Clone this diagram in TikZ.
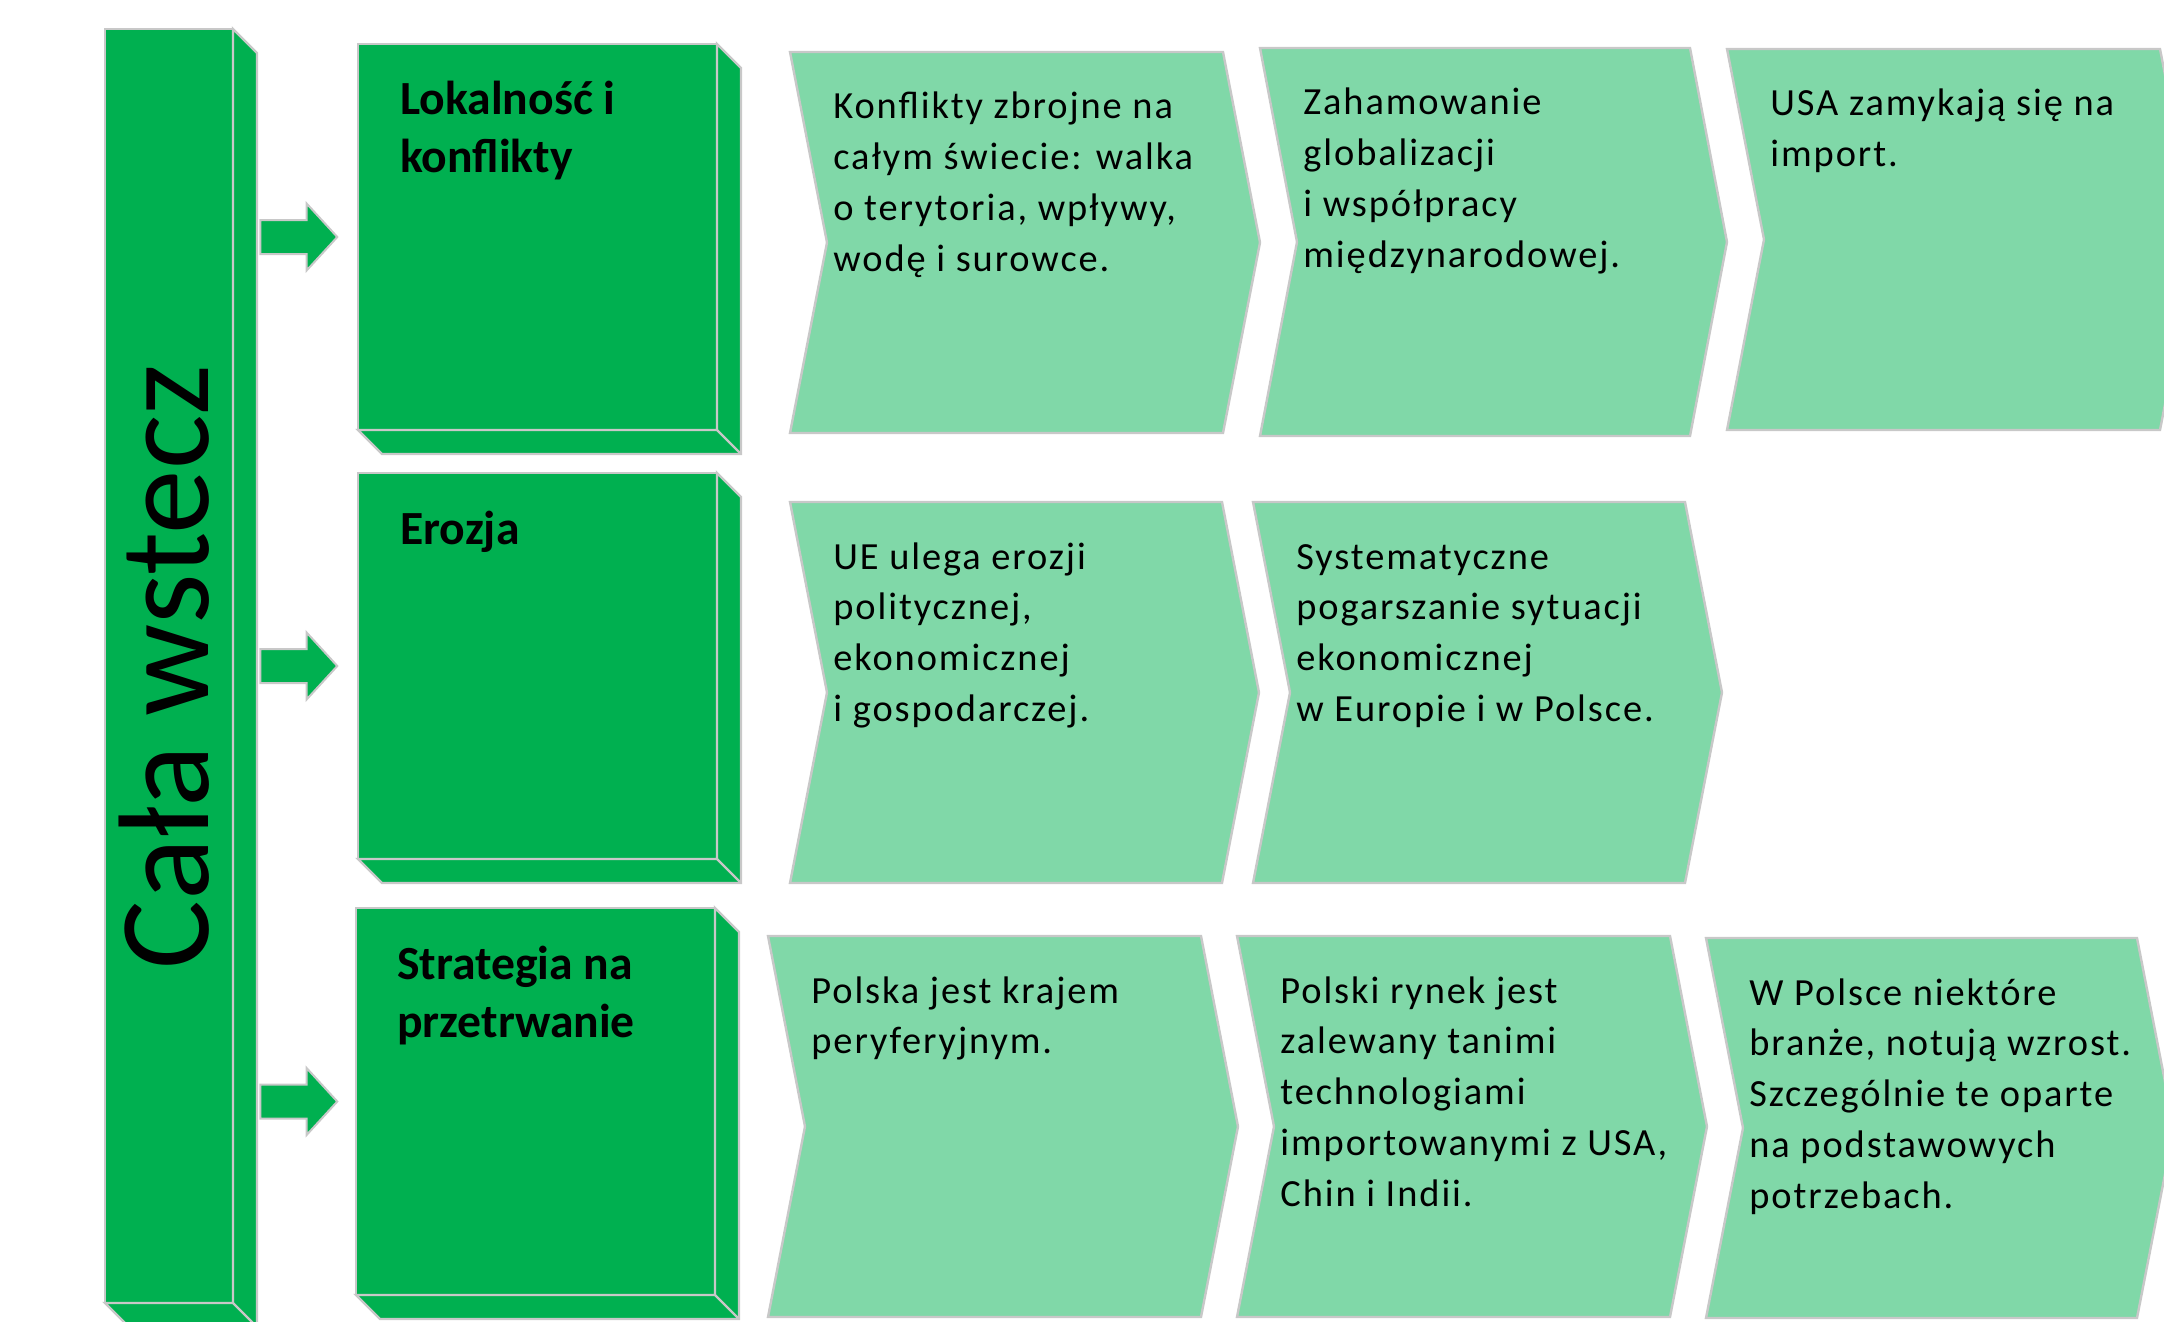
\documentclass[tikz,border=0pt]{standalone}
\usepackage{fontspec}
\setmainfont{Carlito}
\newfontfamily\bodyfont[LetterSpace=5]{Carlito}
\usetikzlibrary{shapes.arrows,calc}
\definecolor{dgreen}{HTML}{00B050}
\definecolor{lgreen}{HTML}{80D8A8}
\definecolor{edgegray}{HTML}{C8C8C8}
\tikzset{
  face/.style={fill=dgreen, draw=edgegray, line width=1.2pt, line join=miter},
  frontface/.style={face, rectangle, inner sep=0pt, outer sep=0pt, anchor=north west},
  chev/.style={fill=lgreen, draw=edgegray, line width=1.2pt},
  blockarrow/.style={single arrow, fill=dgreen, draw=edgegray, line width=1pt,
    inner sep=8pt, minimum height=38.5pt, single arrow head extend=8.25pt,
    single arrow tip angle=95, outer sep=0pt},
  titletext/.style={anchor=base west, inner sep=0pt},
  bodytext/.style={anchor=base west, inner sep=0pt},
}
% cube: name, x, y, w, h, depth (pixel units)
\newcommand\cubebox[6]{%
  \node[frontface, minimum width=#4*0.5pt, minimum height=#5*0.5pt] (#1) at (#2,#3) {};
  \filldraw[face] (#1.north east) -- ++(#6,#6) -- ++(0,#5) -- ++(-#4,0) -- (#1.south west) -- (#1.south east) -- cycle;
  \draw[face, fill=none] (#1.south east) -- ++(#6,#6);
}
% chevron: name, L, T, R, B, text
\newcommand\chevbox[6]{%
  \filldraw[chev] (#2,#3) -- (#4,#3) -- ({#4+37},{(#3+#5)/2}) -- (#4,#5) -- (#2,#5) -- ({#2+37},{(#3+#5)/2}) -- cycle;
  \node[bodytext] (#1) at ({#2+43},{#3+67}) {\parbox[t]{400pt}{\raggedright\bodyfont\fontsize{19.2pt}{25.4pt}\selectfont #6}};
}
\newcommand\titlebox[1]{\parbox[t]{200pt}{\raggedright\bfseries\fontsize{23.8pt}{29pt}\selectfont #1}}
\begin{document}
\begin{tikzpicture}[x=0.5pt,y=-0.5pt]
\useasboundingbox (0,0) rectangle (2164,1322);
\clip (0,0) rectangle (2164,1322);

% left bar
\cubebox{bar}{105}{29}{128}{1274}{24}
\node[rotate=90, anchor=base, inner sep=0pt] (bartitle) at (208,667)
  {\fontsize{64.5pt}{70pt}\selectfont Cała wstecz};

% row boxes
\cubebox{box1}{358}{44}{359}{386}{24}
\cubebox{box2}{358}{473}{359}{386}{24}
\cubebox{box3}{356}{908}{359}{387}{24}

\node[titletext] (t1) at ($(box1.north west)+(42,71)$) {\titlebox{Lokalność i\\konflikty}};
\node[titletext] (t2) at ($(box2.north west)+(42,71)$) {\titlebox{Erozja}};
\node[titletext] (t3) at ($(box3.north west)+(41,71)$) {\titlebox{Strategia na\\przetrwanie}};

% arrows
\node[blockarrow] (arr1) at ($(box1.west)+(-67,0)$) {};
\node[blockarrow] (arr2) at ($(box2.west)+(-67,0)$) {};
\node[blockarrow] (arr3) at ($(box3.west)+(-65,0)$) {};

% row 1
\chevbox{c11}{790}{52}{1223}{433}{Konflikty zbrojne na\\całym świecie: walka\\o terytoria, wpływy,\\wodę i surowce.}
\chevbox{c12}{1260}{48}{1690}{436}{Zahamowanie\\globalizacji\\i współpracy\\międzynarodowej.}
\chevbox{c13}{1727}{49}{2160}{430}{USA zamykają się na\\import.}
% row 2
\chevbox{c21}{790}{502}{1222}{883}{UE ulega erozji\\politycznej,\\ekonomicznej\\i gospodarczej.}
\chevbox{c22}{1253}{502}{1685}{883}{Systematyczne\\pogarszanie sytuacji\\ekonomicznej\\w Europie i w Polsce.}
% row 3
\chevbox{c31}{768}{936}{1201}{1317}{Polska jest krajem\\peryferyjnym.}
\chevbox{c32}{1237}{936}{1670}{1317}{Polski rynek jest\\zalewany tanimi\\technologiami\\importowanymi z USA,\\Chin i Indii.}
\chevbox{c33}{1706}{938}{2137}{1318}{W Polsce niektóre\\branże, notują wzrost.\\Szczególnie te oparte\\na podstawowych\\potrzebach.}
\end{tikzpicture}
\end{document}
